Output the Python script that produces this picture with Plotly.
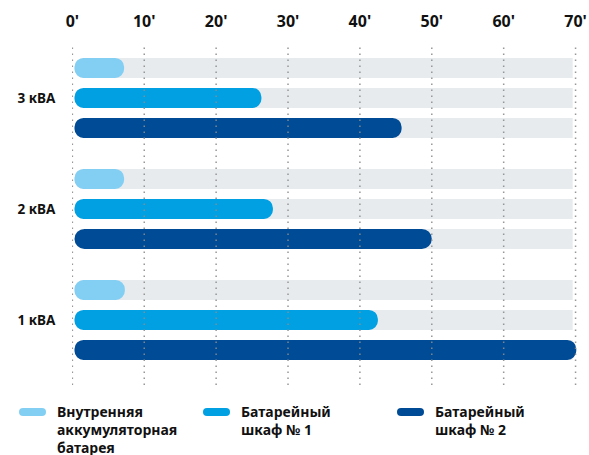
import plotly.graph_objects as go

categories = ['3 кВА', '2 кВА', '1 кВА']
series_names = ['Внутренняя<br>аккумуляторная<br>батарея', 'Батарейный<br>шкаф № 1', 'Батарейный<br>шкаф № 2']
internal = [7.2, 7.2, 7.3]
cabinet1 = [26.3, 27.9, 42.5]
cabinet2 = [45.8, 50, 70.1]
tick_vals = [0, 10, 20, 30, 40, 50, 60, 70]
tick_text = ["0'", "10'", "20'", "30'", "40'", "50'", "60'", "70'"]
axis_max = 70

colors = ['#83cff4', '#00a0e3', '#004b95']
track_color = '#e8ebee'
values = [internal, cabinet1, cabinet2]

W, H = 589, 455
ML, MR, MT, MB = 72, 12, 43, 70
FONT = 'Noto Sans'
BASE = 0.3        # bars start just right of the 0 line
CAP = 3.0         # rounded left piece of the track
JOIN = 2.0
TRACK_END = axis_max - 0.4

fig = go.Figure()

# grey tracks: rounded left end, square right end
for i in range(3):
    fig.add_trace(go.Bar(y=categories, x=[CAP - BASE] * 3, base=[BASE] * 3, orientation='h',
                         offsetgroup=str(i), marker=dict(color=track_color, cornerradius=10, line=dict(width=0)),
                         showlegend=False, hoverinfo='skip'))
    fig.add_trace(go.Bar(y=categories, x=[TRACK_END - JOIN] * 3, base=[JOIN] * 3, orientation='h',
                         offsetgroup=str(i), marker=dict(color=track_color, cornerradius=0, line=dict(width=0)),
                         showlegend=False, hoverinfo='skip'))
# value bars, rounded on both ends
for i in range(3):
    v = values[i]
    fig.add_trace(go.Bar(y=categories, x=[a - BASE for a in v], base=[BASE] * 3, orientation='h',
                         offsetgroup=str(i), marker=dict(color=colors[i], cornerradius=10, line=dict(width=0)),
                         name=series_names[i], showlegend=False, hoverinfo='skip'))

pw = W - ML - MR
ph = H - MT - MB
def px(x):
    return (x - ML) / pw
def py(y):
    return 1 - (y - MT) / ph

shapes = []
annotations = []

# dotted vertical grid lines drawn above the bars
for t in tick_vals:
    shapes.append(dict(type='line', xref='x', yref='paper', x0=t, x1=t, y0=0, y1=1, layer='above',
                       line=dict(color='rgba(140,140,140,0.9)', width=1.5, dash='1.5px,4.5px')))

legend_x = [19, 203, 397]
text_x = [55, 239, 433]
sym_w, sym_h = 27, 8
sym_cy = 412
for i in range(3):
    x0 = legend_x[i]
    r = sym_h / 2
    shapes.append(dict(type='rect', xref='paper', yref='paper', xsizemode='pixel', ysizemode='pixel',
                       xanchor=px(x0), yanchor=py(sym_cy), x0=r, x1=sym_w - r, y0=-r, y1=r,
                       fillcolor=colors[i], line=dict(width=0)))
    for cx in (r, sym_w - r):
        shapes.append(dict(type='circle', xref='paper', yref='paper', xsizemode='pixel', ysizemode='pixel',
                           xanchor=px(x0), yanchor=py(sym_cy), x0=cx - r, x1=cx + r, y0=-r, y1=r,
                           fillcolor=colors[i], line=dict(width=0)))
    annotations.append(dict(xref='paper', yref='paper', x=px(text_x[i]), y=py(400), xanchor='left', yanchor='top',
                            text='<b>' + series_names[i] + '</b>', showarrow=False, align='left',
                            font=dict(family=FONT, size=14, color='#111111')))

fig.update_layout(
    width=W, height=H, autosize=False,
    margin=dict(l=ML, r=MR, t=MT, b=MB, autoexpand=False),
    paper_bgcolor='white', plot_bgcolor='white',
    barmode='group', bargap=0.19, bargroupgap=0.333,
    showlegend=False, hovermode=False,
    shapes=shapes, annotations=annotations,
    xaxis=dict(side='top', range=[-0.05, 70.2], tickvals=tick_vals, ticktext=tick_text,
               automargin=False, showgrid=False, zeroline=False, showline=False,
               ticks='outside', ticklen=9, tickcolor='rgba(0,0,0,0)',
               tickfont=dict(family=FONT, size=16, color='#111111', weight='bold')),
    yaxis=dict(range=[2.586, -0.495], showgrid=False, zeroline=False, showline=False,
               automargin=False,
               ticks='outside', ticklen=13, tickcolor='rgba(0,0,0,0)',
               tickfont=dict(family=FONT, size=13.5, color='#111111', weight='bold')),
)

fig.write_html('out.html', config={'displayModeBar': False, 'responsive': False},
               post_script="document.body.style.margin='0px';")
